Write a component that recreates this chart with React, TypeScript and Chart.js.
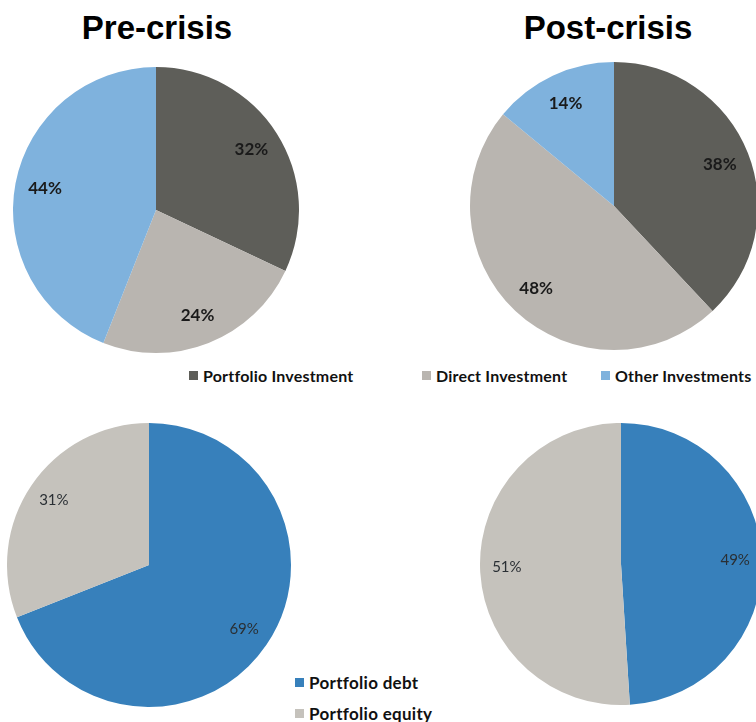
import React, { useEffect, useRef } from "react";
import { Chart, registerables } from "chart.js";

Chart.register(...registerables);

// Composition of capital flows
const mixCategories = ["Portfolio Investment", "Direct Investment", "Other Investments"];
const preCrisisMix = [32, 24, 44];
const postCrisisMix = [38, 48, 14];

// Split of portfolio flows
const portfolioCategories = ["Portfolio debt", "Portfolio equity"];
const preCrisisPortfolio = [69, 31];
const postCrisisPortfolio = [49, 51];

const periodTitles = ["Pre-crisis", "Post-crisis"];

const mixColors = ["#5e5e59", "#b9b5b0", "#7fb2dd"];
const portfolioColors = ["#3780bb", "#c5c2bc"];

const LABEL_FONT = "Lato, 'Open Sans', sans-serif";

type PieProps = {
  values: number[];
  labels: string[];
  colors: string[];
  cx: number;
  cy: number;
  r: number;
  labelFont: string;
  labelColor: string;
  labelRadius: number;
};

// Draws "NN%" inside each slice, along the slice bisector
const sliceLabels = {
  id: "sliceLabels",
  afterDatasetsDraw(chart: any, _args: any, opts: any) {
    const ctx = chart.ctx;
    const meta = chart.getDatasetMeta(0);
    const values = chart.data.datasets[0].data as number[];
    ctx.save();
    ctx.font = opts.font;
    ctx.fillStyle = opts.color;
    ctx.textAlign = "center";
    ctx.textBaseline = "middle";
    meta.data.forEach((arc: any, i: number) => {
      const { x, y, startAngle, endAngle, outerRadius } = arc.getProps(
        ["x", "y", "startAngle", "endAngle", "outerRadius"],
        true
      );
      const mid = (startAngle + endAngle) / 2;
      const d = outerRadius * opts.radius;
      ctx.fillText(`${values[i]}%`, x + Math.cos(mid) * d, y + Math.sin(mid) * d);
    });
    ctx.restore();
  },
};

function Pie({ values, labels, colors, cx, cy, r, labelFont, labelColor, labelRadius }: PieProps) {
  const ref = useRef<HTMLCanvasElement | null>(null);
  useEffect(() => {
    if (!ref.current) return;
    const chart = new Chart(ref.current, {
      type: "pie",
      data: {
        labels,
        datasets: [{ data: values, backgroundColor: colors, borderWidth: 0 }],
      },
      options: {
        responsive: false,
        animation: false,
        events: [],
        layout: { padding: 0 },
        plugins: {
          legend: { display: false },
          tooltip: { enabled: false },
          sliceLabels: { font: labelFont, color: labelColor, radius: labelRadius },
        } as any,
      },
      plugins: [sliceLabels],
    });
    return () => chart.destroy();
  }, []);
  return (
    <canvas
      ref={ref}
      width={2 * r}
      height={2 * r}
      style={{ position: "absolute", left: cx - r, top: cy - r, width: 2 * r, height: 2 * r, display: "block" }}
    />
  );
}

function Swatch({ color }: { color: string }) {
  return <span style={{ display: "inline-block", width: 9, height: 9, background: color, marginRight: 5 }} />;
}

export default function App() {
  const titleStyle: React.CSSProperties = {
    position: "absolute",
    width: 300,
    textAlign: "center",
    font: "bold 33px 'Liberation Sans', Arial, sans-serif",
    lineHeight: "33px",
    color: "#000",
    top: 11,
  };
  const legendText: React.CSSProperties = {
    font: `bold 16px ${LABEL_FONT}`,
    letterSpacing: "0.2px",
    color: "#111",
    whiteSpace: "nowrap",
  };
  return (
    <div
      style={{
        position: "absolute",
        left: 0,
        top: 0,
        width: 756,
        height: 722,
        overflow: "hidden",
        background: "#fff",
      }}
    >
      <div style={{ ...titleStyle, left: 157 - 150 }}>{periodTitles[0]}</div>
      <div style={{ ...titleStyle, left: 608 - 150 }}>{periodTitles[1]}</div>

      <Pie values={preCrisisMix} labels={mixCategories} colors={mixColors} cx={156} cy={210} r={143}
        labelFont={`bold 17px ${LABEL_FONT}`} labelColor="#1a1a1a" labelRadius={0.79} />
      <Pie values={postCrisisMix} labels={mixCategories} colors={mixColors} cx={614} cy={206} r={144}
        labelFont={`bold 17px ${LABEL_FONT}`} labelColor="#1a1a1a" labelRadius={0.79} />
      <Pie values={preCrisisPortfolio} labels={portfolioCategories} colors={portfolioColors} cx={149} cy={565} r={142}
        labelFont={`15px ${LABEL_FONT}`} labelColor="#2a2f34" labelRadius={0.81} />
      <Pie values={postCrisisPortfolio} labels={portfolioCategories} colors={portfolioColors} cx={621} cy={564} r={141}
        labelFont={`15px ${LABEL_FONT}`} labelColor="#2a2f34" labelRadius={0.81} />

      {/* legend for the flow composition pies */}
      {mixCategories.map((name, i) => (
        <div key={name} style={{ position: "absolute", top: 365, height: 20, left: [189, 422, 601][i], display: "flex", alignItems: "center" }}>
          <Swatch color={mixColors[i]} />
          <span style={legendText}>{name}</span>
        </div>
      ))}

      {/* legend for the portfolio pies */}
      {portfolioCategories.map((name, i) => (
        <div key={name} style={{ position: "absolute", left: 295, top: 671 + i * 31, height: 22, display: "flex", alignItems: "center" }}>
          <Swatch color={portfolioColors[i]} />
          <span style={{ ...legendText, fontSize: 17, letterSpacing: "0.3px" }}>{name}</span>
        </div>
      ))}
    </div>
  );
}
